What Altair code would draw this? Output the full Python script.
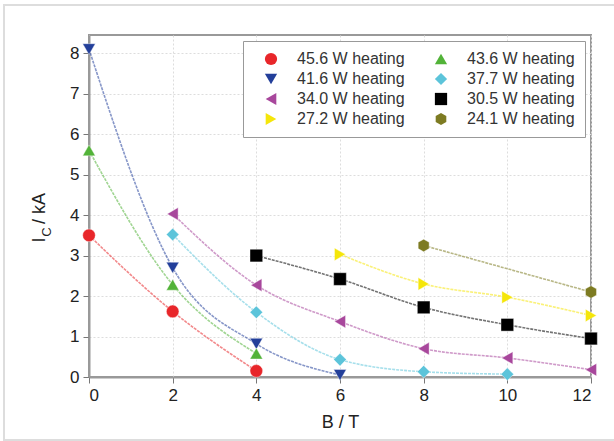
import altair as alt
import pandas as pd

# legend order is column-major: first column then second column
series_names = ["45.6 W heating", "41.6 W heating", "34.0 W heating", "27.2 W heating",
                "43.6 W heating", "37.7 W heating", "30.5 W heating", "24.1 W heating"]
series_colors = ["#e8262a", "#233f9a", "#a8479c", "#f5e60a", "#52b338", "#5cc4da", "#000000", "#7d7b22"]
hexagon = "M0,-1L0.866,-0.5L0.866,0.5L0,1L-0.866,0.5L-0.866,-0.5Z"
series_shapes = ["circle", "triangle-down", "triangle-left", "triangle-right",
                 "triangle-up", "diamond", "square", hexagon]

b_456 = [0, 2, 4];            ic_456 = [3.50, 1.62, 0.15]
b_416 = [0, 2, 4, 6];         ic_416 = [8.10, 2.70, 0.82, 0.05]
b_340 = [2, 4, 6, 8, 10, 12]; ic_340 = [4.03, 2.27, 1.37, 0.70, 0.47, 0.18]
b_272 = [6, 8, 10, 12];       ic_272 = [3.03, 2.30, 1.97, 1.52]
b_436 = [0, 2, 4];            ic_436 = [5.60, 2.28, 0.58]
b_377 = [2, 4, 6, 8, 10];     ic_377 = [3.52, 1.60, 0.43, 0.13, 0.07]
b_305 = [4, 6, 8, 10, 12];    ic_305 = [3.00, 2.42, 1.72, 1.29, 0.95]
b_241 = [8, 12];              ic_241 = [3.25, 2.10]

x_ticks = [0, 2, 4, 6, 8, 10, 12]
y_ticks = [0, 1, 2, 3, 4, 5, 6, 7, 8]

all_b = [b_456, b_416, b_340, b_272, b_436, b_377, b_305, b_241]
all_ic = [ic_456, ic_416, ic_340, ic_272, ic_436, ic_377, ic_305, ic_241]
rows = []
for name, bs, ics in zip(series_names, all_b, all_ic):
    for b, ic in zip(bs, ics):
        rows.append({"series": name, "B": b, "Ic": ic})
df = pd.DataFrame(rows)

W, H = 502, 342
font = "Liberation Sans"

xenc = alt.X("B:Q", scale=alt.Scale(domain=[0, 12], nice=False),
             axis=alt.Axis(values=x_ticks, title="B / T", format="d"))
yenc = alt.Y("Ic:Q", scale=alt.Scale(domain=[0, 8.45], nice=False),
             axis=alt.Axis(values=y_ticks, title=None, format="d"))
color_scale = alt.Scale(domain=series_names, range=series_colors)
shape_scale = alt.Scale(domain=series_names, range=series_shapes)

legend = alt.Legend(orient="top-right", columns=2, offset=6,
                    direction="vertical",
                    strokeColor="#999999", padding=10,
                    symbolSize=150, symbolStrokeWidth=0, symbolOpacity=1,
                    labelFontSize=16, labelFont=font, labelColor="#333333",
                    labelOffset=18, rowPadding=4, columnPadding=18,
                    symbolOffset=10, fillColor="white", labelLimit=200)

base = alt.Chart(df)

lines = base.mark_line(interpolate="monotone", strokeWidth=1.6, opacity=0.55,
                       strokeDash=[3, 1]).encode(
    x=xenc, y=yenc,
    color=alt.Color("series:N", scale=color_scale, title=None, legend=legend),
    detail="series:N",
)

points = base.mark_point(filled=True, size=160, opacity=1, stroke="white", strokeWidth=0.4).encode(
    x=xenc, y=yenc,
    color=alt.Color("series:N", scale=color_scale, title=None, legend=legend),
    shape=alt.Shape("series:N", scale=shape_scale, title=None, legend=legend),
)

ytitle_main = alt.Chart(pd.DataFrame({"t": ["I"]})).mark_text(
    angle=270, font=font, fontSize=18, color="#222222", align="center", baseline="middle"
).encode(text="t:N", x=alt.value(-49), y=alt.value(205))
ytitle_sub = alt.Chart(pd.DataFrame({"t": ["C"]})).mark_text(
    angle=270, font=font, fontSize=13, color="#222222", align="center", baseline="middle"
).encode(text="t:N", x=alt.value(-42), y=alt.value(197))
ytitle_rest = alt.Chart(pd.DataFrame({"t": ["/ kA"]})).mark_text(
    angle=270, font=font, fontSize=18, color="#222222", align="left", baseline="middle"
).encode(text="t:N", x=alt.value(-49), y=alt.value(189))

border = alt.Chart(pd.DataFrame({"k": [0]})).mark_rect(
    fill=None, stroke="#dddddd", strokeWidth=2
).encode(x=alt.value(-85), x2=alt.value(W + 30), y=alt.value(-30), y2=alt.value(H + 63))

chart = alt.layer(border, lines, points, ytitle_main, ytitle_sub, ytitle_rest).properties(
    width=W, height=H,
    autosize=alt.AutoSizeParams(type="none"),
    padding={"left": 89, "top": 35, "right": 23, "bottom": 64},
    background="white",
).configure_view(
    stroke="#999999", strokeWidth=2
).configure_axis(
    labelFont=font, labelFontSize=17, labelColor="#222222",
    titleFont=font, titleFontSize=18, titleFontWeight="normal", titleColor="#222222",
    domainColor="#999999", domainWidth=2, tickColor="#777777", tickSize=6,
    gridColor="#dddddd", gridDash=[2, 2], gridWidth=1, labelPadding=4,
).configure_axisX(titlePadding=10)

chart.save("out.html", embed_options={"renderer": "svg", "actions": False})
